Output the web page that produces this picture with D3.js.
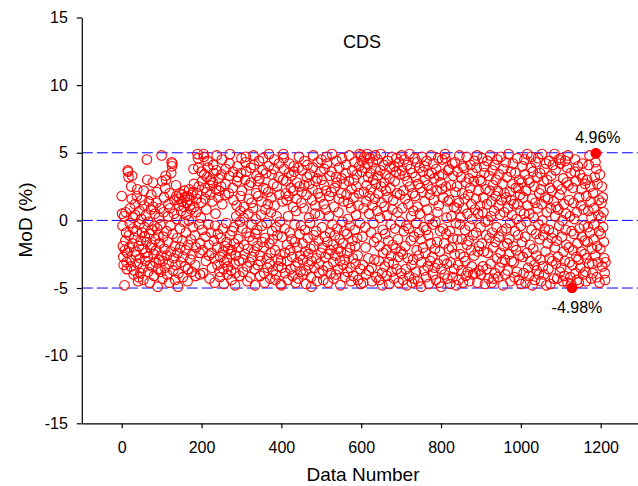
<!DOCTYPE html>
<html>
<head>
<meta charset="utf-8">
<script src="https://cdn.jsdelivr.net/npm/d3@7"></script>
<style>
  body { margin: 0; background: #fff; }
  text { font-family: "Liberation Sans", Arial, sans-serif; }
</style>
</head>
<body>
<svg id="chart" width="638" height="486"></svg>
<script>
// MoD (%), 100 data numbers per array
const mod0 = [1.8,0.5,-0.4,-1.9,-2.7,-3.3,0.3,-4.8,-2.2,-1.5,0.6,-0.9,-3.1,-3.6,-2.4,3.7,3.6,3.2,-1.1,-2.0,-0.2,0.9,-2.9,-3.4,2.5,1.6,3.3,-1.7,-0.6,0.2,-4.0,-3.7,-1.3,1.2,0.4,-2.3,-2.6,-0.8,1.8,2.3,-3.2,-4.5,-4.2,-1.9,-0.3,0.7,-2.8,-3.9,-1.5,0.1,1.5,-0.9,-2.1,-3.5,-4.4,2.2,1.1,-0.5,-1.2,-3.0,-2.4,0.4,-1.6,4.5,3.0,-2.7,-3.8,-0.1,1.4,-1.0,-4.6,-3.3,-2.0,0.8,1.9,-0.7,-1.8,-3.4,2.8,1.0,-2.5,-4.1,-0.4,0.5,-1.4,-3.1,-2.2,1.3,2.1,-0.6,-4.9,-3.6,-1.1,0.2,-2.9,-1.7,0.9,-0.3,-3.8,-2.6];
const mod1 = [4.8,2.9,-4.3,-3.0,-1.2,0.6,1.7,-2.1,-3.5,2.4,3.3,3.0,-0.8,-2.6,-4.0,-1.6,0.3,1.2,-3.2,-4.6,2.0,0.9,-0.4,-2.3,3.5,4.3,4.0,4.2,-1.0,-3.7,-2.8,0.5,1.5,-1.9,-4.4,-3.3,2.6,1.8,0.1,-1.3,-2.4,-4.9,-3.9,1.1,1.6,2.0,-0.6,-2.0,-3.1,0.7,1.9,1.4,-1.5,-4.2,-2.7,-0.1,1.0,2.2,1.7,-3.4,-2.2,-0.9,0.4,1.3,1.8,-4.5,-3.6,-1.8,0.0,2.3,1.5,1.1,-2.9,-1.4,0.8,1.9,-3.8,-2.5,-0.5,2.1,3.8,2.7,1.0,-1.1,-3.3,-4.1,-2.0,0.6,1.6,2.0,4.9,4.6,3.9,2.5,-0.3,-2.4,-4.0,-1.7,0.2,1.3];
const mod2 = [3.6,2.9,-0.7,-2.2,-3.9,4.9,4.7,3.4,2.4,1.6,-1.2,-3.0,0.8,2.1,3.2,4.4,3.9,-0.3,-1.8,-2.6,-4.3,2.6,1.9,3.0,-0.9,-2.4,-3.5,1.4,2.8,4.1,3.5,-1.5,-2.8,-4.6,-0.4,0.5,2.3,3.7,4.8,-2.0,-3.3,-1.0,1.7,3.1,2.2,-3.8,-4.2,-2.7,-1.3,2.5,3.4,4.5,1.2,-0.6,-2.3,-3.6,-4.7,-3.1,-1.9,1.9,2.7,3.8,-0.2,-1.6,-2.9,-4.0,-3.4,-2.1,2.0,3.3,4.2,4.9,-1.1,-2.5,-3.7,-4.4,-2.2,-0.8,2.4,3.6,1.5,-0.5,-1.7,-3.2,-4.8,-3.9,-2.6,0.3,1.1,2.9,4.0,3.2,-1.4,-2.0,-3.0,-4.1,-0.1,0.7,1.8,3.5];
const mod3 = [4.6,2.2,-0.6,-2.9,-3.8,0.2,1.0,-1.8,-2.5,3.0,4.3,4.7,3.6,-0.9,-3.4,-4.5,-2.1,0.5,1.6,2.6,-1.2,-3.1,-4.2,3.9,2.8,1.3,-0.3,-2.7,-1.5,0.9,4.8,4.1,-2.3,-3.6,-4.8,-1.0,0.1,2.0,3.3,-0.7,-1.9,-3.3,1.8,2.9,4.4,3.1,-2.6,-4.1,-3.0,0.4,1.4,-0.4,-1.6,3.7,4.6,2.4,-2.0,-3.9,-4.6,-1.3,0.8,2.3,3.5,-0.2,-2.8,-3.5,1.2,2.1,4.0,4.9,-1.7,-3.2,-4.3,-2.4,0.6,1.7,3.4,-0.8,-1.4,-3.7,2.7,3.8,4.5,1.1,-2.2,-4.4,-4.0,-0.5,0.3,2.5,-1.1,-2.9,-3.4,3.2,4.2,1.9,-0.1,-2.5,-4.7,-3.0];
const mod4 = [-4.8,-3.5,-1.2,1.4,3.0,4.9,4.6,3.8,-0.6,-2.4,-3.9,2.0,2.9,1.5,-1.8,-3.0,-4.4,0.3,1.8,3.5,4.2,-0.9,-2.2,-3.6,2.4,3.3,-1.4,-2.7,-4.1,1.0,2.2,4.0,3.6,-0.3,-1.6,-3.4,-4.6,0.7,1.6,2.8,-2.0,-3.1,-4.3,3.9,4.7,2.5,-1.0,-2.6,-3.8,-0.4,1.3,2.1,3.7,-1.7,-2.9,-4.0,0.9,2.6,4.4,-0.7,-2.3,-3.7,-4.7,1.9,3.2,4.1,-1.3,-2.5,-3.3,0.2,2.7,3.4,-0.2,-2.1,-4.2,-4.9,-3.0,1.5,2.3,3.9,4.8,-1.1,-1.9,-3.5,0.5,1.1,2.9,-0.8,-2.8,-4.5,3.1,4.3,2.0,-1.5,-3.2,-3.9,0.4,1.7,3.6,-2.4];
const mod5 = [4.5,3.0,-0.5,-2.0,-3.7,-4.4,1.2,2.6,3.8,-1.2,-2.7,0.8,2.2,4.7,4.2,-1.6,-3.4,-4.6,-2.5,0.3,1.8,3.3,-0.9,-2.2,-3.9,2.1,3.6,4.9,-0.3,-1.8,-3.1,-4.3,1.0,2.4,-1.1,-2.6,-4.0,3.2,4.4,2.8,-0.6,-2.1,-3.6,0.6,1.6,3.9,-1.4,-3.0,-4.8,-2.3,2.0,3.1,4.6,-0.1,-1.7,-3.3,1.4,2.7,-0.8,-2.9,-4.2,3.5,4.1,1.9,-1.0,-2.4,-3.8,0.1,1.3,2.9,4.8,-0.4,-2.0,-3.5,-4.5,0.9,2.3,3.7,-1.5,-2.8,-4.1,1.7,3.0,4.3,-0.7,-1.9,-3.2,0.4,2.5,3.4,-1.3,-2.6,-4.4,1.1,2.0,4.0,4.9,-0.2,-3.6,-4.7];
const mod6 = [4.8,4.4,3.6,-1.2,-3.3,-4.6,0.9,2.1,4.7,3.9,-0.5,-2.0,-4.0,1.4,2.6,4.9,4.2,3.2,-2.8,-3.7,0.5,1.8,4.6,3.5,2.3,-0.9,-3.5,-4.5,1.1,4.3,3.0,-0.2,-1.6,-2.9,1.6,4.8,3.8,2.7,-4.2,-1.3,0.7,4.5,3.3,2.0,-3.0,-4.4,-1.9,0.2,3.7,4.9,2.5,1.3,-3.9,-4.8,-0.7,-2.4,4.1,2.8,1.0,-3.4,-1.0,3.4,2.2,-2.2,-4.1,0.4,1.7,4.4,-1.5,-3.1,-4.7,3.1,3.9,2.4,-0.3,-2.6,-3.8,4.7,0.8,-1.8,1.5,-3.2,-4.3,4.0,2.9,-0.6,-2.1,3.6,4.6,-3.6,2.0,0.6,-1.4,-2.7,-4.6,4.3,3.4,1.9,-0.1,-2.3];
const mod7 = [-3.9,4.8,3.7,0.9,-2.5,-4.4,2.2,-0.8,4.5,3.3,1.6,-1.9,-3.6,-0.4,-4.8,4.1,2.9,-2.8,1.2,-0.6,-4.1,4.9,2.5,3.8,-1.5,0.3,-3.3,-4.6,3.5,2.0,-2.9,0.7,-1.2,-4.3,4.6,1.8,3.2,-3.8,-0.2,-2.2,4.3,1.0,2.7,-4.5,-2.6,-0.9,3.9,0.5,2.4,-1.4,-4.9,-3.1,4.7,2.1,3.6,-2.0,-0.5,-3.7,4.0,1.4,3.0,-2.4,-4.2,-0.7,4.4,0.8,2.6,-3.4,-1.1,-4.7,3.4,0.1,1.9,-3.0,-1.7,4.8,2.3,3.5,-2.7,-0.3,-4.0,4.2,1.5,3.1,-3.5,-2.1,-0.1,-4.4,3.8,2.2,-1.6,0.6,-3.2,4.6,1.1,3.3,-4.6,-2.3,-0.8,2.8];
const mod8 = [-4.9,-3.6,2.3,4.5,3.4,-0.6,1.7,-2.9,-1.7,-4.0,4.9,4.6,2.5,-1.0,0.2,-3.2,-4.3,1.4,3.7,-2.1,3.8,1.5,-0.8,-4.7,-3.1,2.6,0.3,-2.0,4.2,-4.2,-1.3,3.3,1.0,-3.6,-2.5,4.3,2.1,-0.2,-4.8,0.9,2.5,-1.4,3.6,-3.3,-4.4,1.3,4.8,-0.3,-2.5,0.2,3.2,-3.7,-1.4,2.0,4.0,-4.6,0.9,-2.7,3.9,1.6,-0.7,-3.0,-4.1,2.8,4.7,-1.8,0.5,-3.8,1.9,-1.5,3.1,-4.5,-0.4,2.4,4.1,-2.2,1.2,-3.4,0.1,3.5,-4.0,-1.1,2.9,-2.6,4.4,0.8,-3.9,1.6,-0.9,3.9,4.8,-4.6,-2.3,0.5,2.2,-1.9,-3.7,3.0,1.1,-0.5];
const mod9 = [-4.0,2.9,-1.7,4.6,0.6,-3.4,1.7,-2.3,4.0,3.5,-4.7,-0.1,2.3,-1.1,-3.6,1.2,4.4,-2.4,0.0,-4.3,3.3,-1.3,2.2,4.8,-3.2,0.3,1.4,-4.6,-0.9,3.7,2.6,-2.0,-4.3,0.7,4.1,-3.9,-1.6,1.8,3.0,-0.5,-2.8,4.5,2.2,-4.2,1.1,-1.2,3.4,-3.5,0.4,-2.4,4.7,1.5,-3.1,-0.8,2.7,-4.8,3.8,-1.9,0.6,2.0,-2.9,-4.0,4.3,1.7,-0.6,3.2,-1.7,-3.7,0.9,4.9,-2.5,-1.4,2.1,-0.2,-4.5,3.6,1.5,-3.0,0.4,2.7,4.2,-1.9,-3.1,1.2,-4.2,-0.8,3.5,2.4,-2.2,0.1,-3.8,4.6,1.2,-1.1,2.4,-4.4,3.0,-2.6,1.9,0.7];
const mod10 = [-0.4,-4.7,2.8,-1.6,4.0,-2.7,1.7,-3.9,0.5,4.5,3.4,-1.2,-4.6,2.2,-0.1,-2.4,4.9,1.1,-3.5,3.0,-4.1,0.5,2.8,-1.8,-3.0,3.9,4.7,-0.7,1.6,-4.8,3.6,-2.1,0.2,2.5,-3.3,-4.4,1.3,4.3,-1.0,-2.6,-3.7,3.2,0.9,4.6,-0.3,-4.0,2.0,-1.4,3.5,-2.9,2.3,-4.5,1.2,4.9,0.0,-3.4,-1.1,2.9,-4.0,3.8,-0.6,1.7,-2.3,4.2,-4.8,0.6,3.0,-1.7,1.6,-3.6,-0.7,4.4,-2.8,2.4,-4.7,0.9,3.3,-1.3,2.2,-3.0,4.1,-0.9,1.4,-4.3,4.9,-2.0,0.3,3.7,-3.2,1.0,-1.5,-4.3,2.6,-2.7,0.8,4.5,-0.4,1.9,-3.8,4.2];
const mod11 = [4.6,-3.5,2.3,-1.2,0.0,-4.5,3.1,-2.3,1.2,-4.1,-3.0,4.4,-0.7,0.5,-1.8,2.8,3.9,-4.6,4.8,2.6,-2.0,1.5,-3.1,0.3,-4.2,3.5,-4.7,-0.8,-4.98,-3.3,2.4,-2.2,1.3,-1.0,0.1,3.6,4.5,-3.9,2.9,-2.7,0.6,-4.4,-1.7,4.0,-2.9,-4.6,1.7,-0.6,3.4,-3.5,1.1,-2.3,2.3,-1.2,4.2,3.1,-4.0,0.8,-0.4,-2.5,-1.5,2.7,-3.8,-4.5,1.8,-2.8,3.0,-1.6,-0.5,0.7,4.1,-3.2,4.8,-0.9,2.5,1.4,-4.3,0.2,-2.1,-3.2,-3.9,2.0,-1.4,0.9,-0.3,3.2,-2.6,4.3,4.96,3.8,-4.2,-1.9,2.7,-3.1,0.4,1.5,-0.8,-4.6,3.4,-2.1,-1.0,0.2,1.3,2.5,-3.4,1.7,-0.5,0.6,-1.6,-2.8,-3.9,-4.4,-3.1];

const modValues = [].concat(mod0, mod1, mod2, mod3, mod4, mod5, mod6, mod7, mod8, mod9, mod10, mod11);
const xTicks = [0, 200, 400, 600, 800, 1000, 1200];
const yTicks = [-15, -10, -5, 0, 5, 10, 15];
const refLines = [-5, 0, 5];
const chartTitle = 'CDS';

const svg = d3.select('#chart');
svg.append('rect').attr('width', 638).attr('height', 486).attr('fill', '#fff');

const x = d3.scaleLinear().domain([-100, 1300]).range([81.8, 640.6]);
const y = d3.scaleLinear().domain([-15, 15]).range([423.3, 17.5]);

const points = modValues.map((v, i) => ({ n: i, v: v }));

// dashed reference lines
svg.append('g')
  .selectAll('line')
  .data(refLines)
  .enter()
  .append('line')
  .attr('x1', x(-100))
  .attr('x2', x(1300))
  .attr('y1', d => y(d))
  .attr('y2', d => y(d))
  .attr('stroke', '#0000ff')
  .attr('stroke-width', 1)
  .attr('stroke-dasharray', '11,4');

// open circles
svg.append('g')
  .selectAll('circle')
  .data(points)
  .enter()
  .append('circle')
  .attr('cx', d => x(d.n))
  .attr('cy', d => y(d.v))
  .attr('r', 4.8)
  .attr('fill', 'none')
  .attr('stroke', '#ff0000')
  .attr('stroke-width', 1.1);

// extremes
const iMax = d3.maxIndex(modValues);
const iMin = d3.minIndex(modValues);
const extremes = [
  { n: iMax, v: modValues[iMax], dx: 2, dy: -10 },
  { n: iMin, v: modValues[iMin], dx: 5, dy: 25 }
];

svg.append('g')
  .selectAll('circle')
  .data(extremes)
  .enter()
  .append('circle')
  .attr('cx', d => x(d.n))
  .attr('cy', d => y(d.v))
  .attr('r', 5.2)
  .attr('fill', '#ff0000');

svg.append('g')
  .selectAll('text')
  .data(extremes)
  .enter()
  .append('text')
  .attr('x', d => x(d.n) + d.dx)
  .attr('y', d => y(d.v) + d.dy)
  .attr('text-anchor', 'middle')
  .style('font-size', '16px')
  .attr('fill', '#000')
  .text(d => d.v.toFixed(2) + '%');

// axes
const yAxis = svg.append('g')
  .attr('transform', `translate(${x(-100)},0)`)
  .call(d3.axisLeft(y).tickValues(yTicks).tickFormat(d => String(d))
    .tickSize(5).tickSizeOuter(0).tickPadding(9));

const xAxis = svg.append('g')
  .attr('transform', `translate(0,${y(-15)})`)
  .call(d3.axisBottom(x).tickValues(xTicks).tickFormat(d => String(d))
    .tickSize(5).tickSizeOuter(0).tickPadding(13));

[yAxis, xAxis].forEach(g => {
  g.selectAll('path, line').attr('stroke', '#000').attr('stroke-width', 1.2);
  g.selectAll('text')
    .style('font-size', '16px')
    .style('font-family', '"Liberation Sans", Arial, sans-serif')
    .attr('fill', '#000');
});

// titles
svg.append('text')
  .attr('x', 363)
  .attr('y', 481)
  .attr('text-anchor', 'middle')
  .style('font-size', '19px')
  .text('Data Number');

svg.append('text')
  .attr('transform', 'translate(32,220) rotate(-90)')
  .attr('text-anchor', 'middle')
  .style('font-size', '19px')
  .text('MoD (%)');

svg.append('text')
  .attr('x', 362)
  .attr('y', 48)
  .attr('text-anchor', 'middle')
  .style('font-size', '18px')
  .text(chartTitle);
</script>
</body>
</html>
